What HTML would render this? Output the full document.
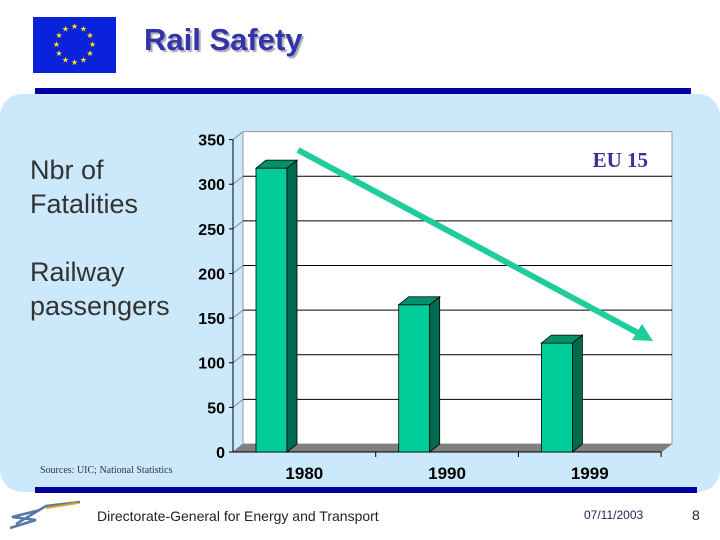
<!DOCTYPE html>
<html><head><meta charset="utf-8"><style>
body{margin:0;width:720px;height:540px;background:#fff;position:relative;overflow:hidden;font-family:"Liberation Sans",sans-serif}
.abs{position:absolute}
</style></head><body>
<div class="abs" style="left:0;top:94px;width:720px;height:398px;background:#cce9fb;border-radius:22px"></div>
<div class="abs" style="left:35px;top:88px;width:656px;height:6px;background:#0000a0"></div>
<div class="abs" style="left:35px;top:487px;width:662px;height:6px;background:#0000a0"></div>
<svg class="abs" style="left:33px;top:17px" width="83" height="56" viewBox="0 0 83 56">
<rect width="83" height="56" fill="#0b22dd"/>
<g fill="#ffe900" font-size="8" text-anchor="middle" font-family="DejaVu Sans">
<text x="41.5" y="12">★</text><text x="50.5" y="14.5">★</text><text x="57" y="21">★</text><text x="59.5" y="30">★</text><text x="57" y="39">★</text><text x="50.5" y="45.5">★</text><text x="41.5" y="48">★</text><text x="32.5" y="45.5">★</text><text x="26" y="39">★</text><text x="23.5" y="30">★</text><text x="26" y="21">★</text><text x="32.5" y="14.5">★</text>
</g></svg>
<div class="abs" style="left:144px;top:22px;font-size:31px;font-weight:bold;color:#3333aa;text-shadow:2px 2px 1px #aab">Rail Safety</div>
<div class="abs" style="left:30px;top:153px;font-size:27px;line-height:34px;color:#333">Nbr of<br>Fatalities<br><div style="height:34px"></div>Railway<br>passengers</div>
<div class="abs" style="left:40px;top:465px;font-size:10px;font-family:'Liberation Serif',serif;color:#333">Sources: UIC; National Statistics</div>
<svg class="abs" style="left:6px;top:500px" width="74" height="32">
<path d="M4 28 L30 20 L6 17 L34 10 M10 24 L40 6 L74 2" stroke="#5577aa" stroke-width="2.5" fill="none"/>
<path d="M40 8 L72 3" stroke="#e6a020" stroke-width="2" fill="none"/>
</svg>
<div class="abs" style="left:97px;top:508px;font-size:14px;color:#222">Directorate-General for Energy and Transport</div>
<div class="abs" style="left:584px;top:508px;font-size:12px;color:#222266">07/11/2003</div>
<div class="abs" style="left:692px;top:507px;font-size:14px;color:#222">8</div>
<svg class="abs" id="chart" style="left:0;top:0" width="720" height="540"></svg>
<script>
const categories=["1980","1990","1999"];
const values=[318,165,122];
const yTicks=[0,50,100,150,200,250,300,350];
const svg=document.getElementById('chart');
const NS='http://www.w3.org/2000/svg';
const x0=233,band=142.7,y0=452,ppu=312.4/350,dx=10,dy=-8;
const yPos=v=>y0-v*ppu;
const bx=i=>x0+i*band;
function mk(t,a,p){const e=document.createElementNS(NS,t);for(const k in a)e.setAttribute(k,a[k]);(p||svg).appendChild(e);return e;}
let e;
e=mk('polygon',{points:`${x0+dx},${yPos(350)+dy} ${x0+dx+429},${yPos(350)+dy} ${x0+dx+429},${y0+dy} ${x0+dx},${y0+dy}`,fill:'#fff',stroke:'#999'});

yTicks.forEach(t=>{if(t>0&&t<350){e=mk('line',{x1:x0+dx,x2:x0+dx+429,y1:yPos(t)+dy,y2:yPos(t)+dy,stroke:'#000','stroke-width':1});
}
e=mk('line',{x1:x0-4,x2:x0,y1:yPos(t),y2:yPos(t),stroke:'#000'});

e=mk('line',{x1:x0,x2:x0+dx,y1:yPos(t),y2:yPos(t)+dy,stroke:'#888'});

e=mk('text',{x:225,y:yPos(t)+6,'text-anchor':'end','font-size':16,'font-weight':'bold','font-family':'Liberation Sans, sans-serif'});e.textContent=t;
});
e=mk('polygon',{points:`${x0},${y0} ${x0+dx},${y0+dy} ${x0+dx+429},${y0+dy} ${x0+429},${y0}`,fill:'#808080'});

e=mk('line',{x1:x0,x2:x0,y1:yPos(350),y2:y0,stroke:'#000'});

e=mk('line',{x1:x0,x2:x0+3*band,y1:y0,y2:y0,stroke:'#000'});

categories.forEach((c,i)=>{
const l=bx(i)+23,w=31,t=yPos(values[i]);
e=mk('rect',{x:l,y:t,width:w,height:y0-t,fill:'#00cc99',stroke:'#000','stroke-width':0.8});

e=mk('polygon',{points:`${l+w},${t} ${l+w+dx},${t+dy} ${l+w+dx},${y0+dy} ${l+w},${y0}`,fill:'#006a4e',stroke:'#000','stroke-width':0.8});

e=mk('polygon',{points:`${l},${t} ${l+dx},${t+dy} ${l+w+dx},${t+dy} ${l+w},${t}`,fill:'#00906a',stroke:'#000','stroke-width':0.8});

e=mk('line',{x1:bx(i+1),x2:bx(i+1),y1:y0,y2:y0+5,stroke:'#000'});

e=mk('text',{x:bx(i)+band/2,y:479,'text-anchor':'middle','font-size':17,'font-weight':'bold','font-family':'Liberation Sans, sans-serif'});e.textContent=c;
});
e=mk('line',{x1:298,y1:150,x2:640,y2:334,stroke:'#1fcc9c','stroke-width':6});

e=mk('polygon',{points:'653,341 632,340 642,324',fill:'#1fcc9c'});

e=mk('text',{x:648,y:167,'text-anchor':'end','font-size':21,'font-weight':'bold','font-family':'Liberation Serif, serif',fill:'#333399'});e.textContent='EU 15';

</script>
</body></html>
